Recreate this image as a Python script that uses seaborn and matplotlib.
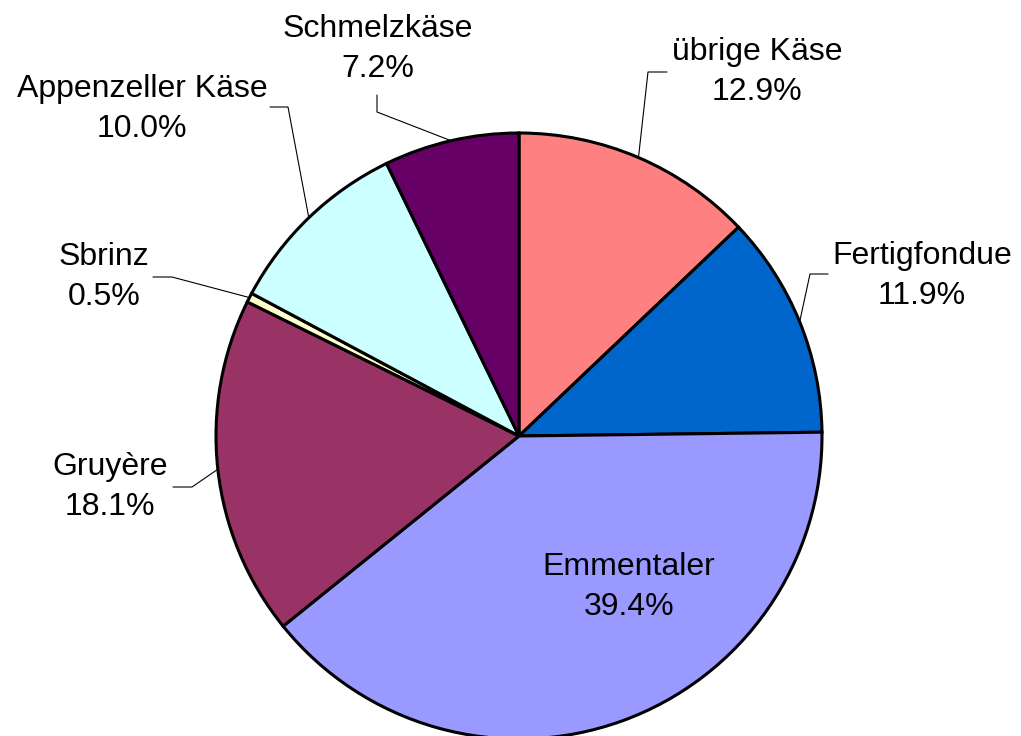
import numpy as np
import seaborn as sns
import matplotlib
matplotlib.use("Agg")
import matplotlib.pyplot as plt

# Käse-Anteile (clockwise from 12 o'clock)
sorten = ["übrige Käse", "Fertigfondue", "Emmentaler", "Gruyère",
          "Sbrinz", "Appenzeller Käse", "Schmelzkäse"]
anteile = [12.9, 11.9, 39.4, 18.1, 0.5, 10.0, 7.2]
farben = ["#FF8080", "#0066CC", "#9999FF", "#993366",
          "#FFFFCC", "#CCFFFF", "#660066"]

sns.set_theme(style="white")
plt.rcParams["font.family"] = ["Liberation Sans", "DejaVu Sans"]

W, H = 1021, 736
CX, CY, R = 519, 436, 303   # pie centre / radius in pixels


def to_data(px, py):
    return (px - CX) / R, (CY - py) / R


fig = plt.figure(figsize=(W / 100, H / 100), dpi=100)
ax = fig.add_axes([(CX - R) / W, (H - CY - R) / H, 2 * R / W, 2 * R / H])

wedges, _ = ax.pie(anteile, colors=farben, startangle=90, counterclock=False,
                   radius=1, wedgeprops=dict(edgecolor="black", linewidth=2.2))
for w in wedges:
    w.set_clip_on(False)
ax.set_xlim(-1, 1)
ax.set_ylim(-1, 1)
ax.set_aspect("equal")
ax.axis("off")

# label layout (pixels): text centre, line start, elbow
layout = {
    "übrige Käse":      ((757, 72),  (667, 72),  (648, 72)),
    "Fertigfondue":     ((922, 276), (828, 274), (810, 274)),
    "Gruyère":          ((110, 487), (173, 487), (192, 487)),
    "Sbrinz":           ((104, 277), (153, 277), (172, 277)),
    "Appenzeller Käse": ((142, 109), (270, 107), (288, 107)),
    "Schmelzkäse":      ((378, 49),  (377, 95),  (377, 112)),
}

for w, name, val in zip(wedges, sorten, anteile):
    text = f"{name}\n{val:.1f}%"
    if name not in layout:
        x, y = to_data(629, 587)
        ax.text(x, y, text, ha="center", va="center", fontsize=23,
                linespacing=1.45, color="black")
        continue
    mid = np.deg2rad((w.theta1 + w.theta2) / 2)
    anchor = (np.cos(mid), np.sin(mid))
    (tx, ty), start, elbow = layout[name]
    x, y = to_data(tx, ty)
    ax.text(x, y, text, ha="center", va="center", fontsize=23,
            linespacing=1.45, color="black")
    p0 = to_data(*start)
    p1 = to_data(*elbow)
    ax.plot([p0[0], p1[0], anchor[0]], [p0[1], p1[1], anchor[1]],
            color="black", linewidth=0.8, clip_on=False)

fig.savefig("out.png", dpi=100, facecolor="white")
